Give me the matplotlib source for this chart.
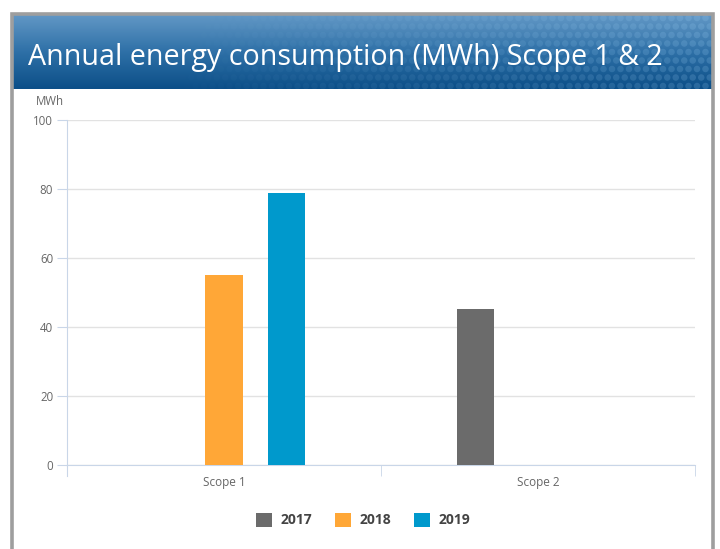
import numpy as np
import matplotlib
matplotlib.use('Agg')
import matplotlib.pyplot as plt
from matplotlib.patches import Rectangle, Patch

# data
categories = ['Scope 1', 'Scope 2']
years = ['2017', '2018', '2019']
vals_2017 = [np.nan, 45.1]
vals_2018 = [55.2, np.nan]
vals_2019 = [78.7, np.nan]
colors = ['#6b6b6b', '#ffa737', '#0099cc']
yticks = [0, 20, 40, 60, 80, 100]

plt.rcParams['font.family'] = ['Open Sans', 'DejaVu Sans']

W, H = 720, 549
fig = plt.figure(figsize=(W / 100, H / 100), dpi=100)
fig.patch.set_facecolor('white')

# grey frame round the panel
fig.patches.append(Rectangle((11.5 / W, -0.05), 702 / W, 1 - 13.5 / H + 0.05,
                             transform=fig.transFigure, fill=False,
                             edgecolor='#9e9e9e', linewidth=2.6, zorder=0))

# blue header with gradient and faint dots
hx0, hx1, hy0, hy1 = 13, 712, 15, 89
hax = fig.add_axes([hx0 / W, 1 - hy1 / H, (hx1 - hx0) / W, (hy1 - hy0) / H])
grad = np.linspace(0, 1, 100).reshape(-1, 1)
cmap = matplotlib.colors.LinearSegmentedColormap.from_list('hdr', ['#6197c5', '#2e70a7', '#0c4f88'])
hax.imshow(grad, aspect='auto', cmap=cmap, extent=[0, hx1 - hx0, hy1 - hy0, 0])
gx, gy = np.meshgrid(np.arange(4, hx1 - hx0, 8.5), np.arange(3, hy1 - hy0, 8.5))
gx = gx + (np.arange(gx.shape[0]) % 2).reshape(-1, 1) * 4.25
alpha = np.clip((gx - 150) / 600, 0, 1) * 0.22
dot_cols = np.zeros((gx.size, 4))
dot_cols[:, :3] = [0.6, 0.8, 0.95]
dot_cols[:, 3] = alpha.ravel()
hax.scatter(gx.ravel(), gy.ravel(), s=22, c=dot_cols, linewidths=0)
hax.set_xlim(0, hx1 - hx0)
hax.set_ylim(hy1 - hy0, 0)
hax.axis('off')
fig.text(28 / W, 1 - 57 / H, 'Annual energy consumption (MWh) Scope 1 & 2',
         color='white', fontsize=20.6, va='center', ha='left')

# plot area
ax = fig.add_axes([67 / W, 1 - 465 / H, (695 - 67) / W, (465 - 120) / H])
x = np.arange(len(categories))
width = 0.12
offsets = [-0.199, 0, 0.199]
for vals, off, c, yr in zip([vals_2017, vals_2018, vals_2019], offsets, colors, years):
    ax.bar(x + off, vals, width, color=c, label=yr, zorder=3)

ax.set_xlim(-0.5, 1.5)
ax.set_ylim(0, 100)
ax.set_yticks(yticks)
ax.yaxis.grid(True, color='#e2e2e2', linewidth=1)
ax.set_axisbelow(True)
axis_col = '#c9d6e8'
for s in ['top', 'right']:
    ax.spines[s].set_visible(False)
ax.spines['left'].set_color(axis_col)
ax.spines['bottom'].set_color(axis_col)
ax.spines['left'].set_bounds(-3.2, 100)
ax.tick_params(axis='y', length=7, color=axis_col, labelcolor='#666666', labelsize=8.3, pad=3)
ax.set_xticks(x)
ax.set_xticklabels(categories)
ax.set_xticks([0.5, 1.5], minor=True)
ax.tick_params(axis='x', which='major', length=0, labelcolor='#666666', labelsize=8.5, pad=8)
ax.tick_params(axis='x', which='minor', length=8, color=axis_col)
fig.text(36 / W, 1 - 101 / H, 'MWh', color='#666666', fontsize=8.3, va='center', ha='left')

handles = [Patch(facecolor=c, label=y) for c, y in zip(colors, years)]
leg = fig.legend(handles=handles, loc='center', bbox_to_anchor=(363 / W, 1 - 520 / H), ncol=3,
                 frameon=False, handlelength=1.2, handleheight=1.2, handletextpad=0.6,
                 columnspacing=1.6, prop={'weight': 'bold', 'size': 10})
for t in leg.get_texts():
    t.set_color('#444444')

fig.savefig('out.png', dpi=100)
